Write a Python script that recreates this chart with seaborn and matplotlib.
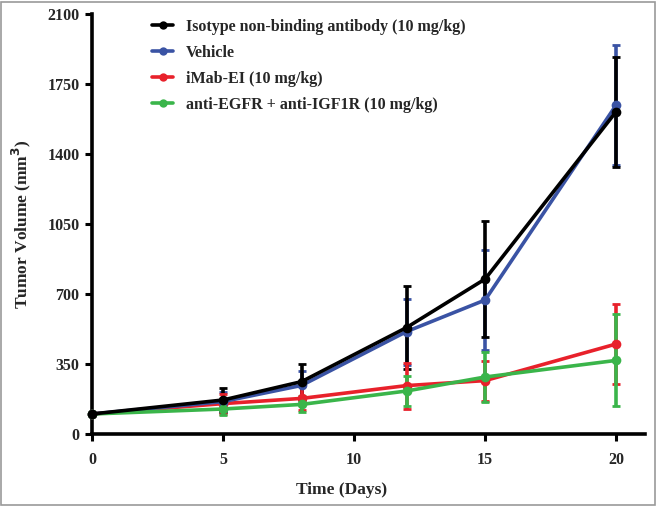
import matplotlib
matplotlib.use("Agg")
import matplotlib.pyplot as plt
import seaborn as sns
import pandas as pd
import numpy as np
from matplotlib.lines import Line2D
from matplotlib.patches import Rectangle

days = [0, 5, 8, 12, 15, 20]
series_names = [
    "Isotype non-binding antibody (10 mg/kg)",
    "Vehicle",
    "iMab-EI (10 mg/kg)",
    "anti-EGFR + anti-IGF1R (10 mg/kg)",
]
isotype_mean = [100, 170, 262, 532, 775, 1612]
isotype_err = [0, 62, 90, 208, 292, 275]
vehicle_mean = [100, 162, 243, 512, 670, 1645]
vehicle_err = [0, 50, 70, 165, 250, 300]
imab_mean = [100, 152, 178, 242, 267, 450]
imab_err = [0, 50, 60, 115, 100, 200]
combo_mean = [100, 125, 148, 215, 285, 368]
combo_err = [0, 30, 40, 75, 125, 230]

colors = ["#000000", "#3a53a4", "#e8212b", "#3ab54a"]
means = [isotype_mean, vehicle_mean, imab_mean, combo_mean]
errs = [isotype_err, vehicle_err, imab_err, combo_err]

frames = []
for name, m, e in zip(series_names, means, errs):
    frames.append(pd.DataFrame({"Day": days, "Volume": m, "Err": e, "Group": name}))
df = pd.concat(frames, ignore_index=True)

sns.set_theme(style="ticks")
plt.rcParams['font.family'] = ['Liberation Serif', 'DejaVu Serif']
plt.rcParams['font.weight'] = 'bold'

fig = plt.figure(figsize=(6.57, 5.07), dpi=100)
ax = fig.add_axes([92/657, 1-434/507, 553/657, 420/507])

# error bars: blue, black, red, green (green on top)
err_order = [1, 0, 2, 3]
for z, i in enumerate(err_order):
    sub = df[df["Group"] == series_names[i]]
    ax.errorbar(sub["Day"], sub["Volume"], yerr=sub["Err"], fmt='none',
                ecolor=colors[i], elinewidth=2.6, capsize=3.0, capthick=2.0,
                zorder=3 + z, clip_on=False)
# lines: red, blue, green, black
line_order = [2, 1, 3, 0]
for z, i in enumerate(line_order):
    sub = df[df["Group"] == series_names[i]]
    sns.lineplot(data=sub, x="Day", y="Volume", color=colors[i], ax=ax,
                 linewidth=2.6, marker='o', markersize=7, markeredgewidth=0,
                 zorder=10 + z, clip_on=False, legend=False)

ax.set_xlim(0, 21.1)
ax.set_ylim(0, 2100)
ax.set_xticks([0, 5, 10, 15, 20])
ax.set_yticks([0, 350, 700, 1050, 1400, 1750, 2100])
sns.despine(ax=ax)
for s in ["left", "bottom"]:
    ax.spines[s].set_linewidth(2.6)
    ax.spines[s].set_color("black")
ax.tick_params(axis='both', length=5, width=2.2, color='black', labelsize=11.5,
               direction='out')
ax.tick_params(axis='x', pad=8)
ax.tick_params(axis='y', pad=4)
for lab in ax.get_xticklabels() + ax.get_yticklabels():
    lab.set_fontweight('bold')
ax.set_xlabel("Time (Days)", fontsize=12.5, fontweight='bold', labelpad=12)
ax.xaxis.set_label_coords(0.452, -0.115)
ax.set_ylabel("Tumor Volume (mm$^\\mathbf{3}$)", fontsize=12.5, fontweight='bold')
ax.yaxis.set_label_coords(-0.107, 0.5)
ax.set_facecolor('white')

handles = [Line2D([0], [0], color=c, linewidth=2.6, marker='o', markersize=6,
                  markeredgewidth=0) for c in colors]
leg = ax.legend(handles, series_names, loc='upper left',
                bbox_to_anchor=(0.108, 0.988), frameon=False, borderpad=0,
                borderaxespad=0, handlelength=1.35, handletextpad=0.8,
                labelspacing=0.62, prop={'family': 'Liberation Serif', 'weight': 'bold', 'size': 11.5})

fig.patches.append(Rectangle((0.002, 0.003), 0.995, 0.994, transform=fig.transFigure,
                             fill=False, edgecolor='#9a9a9a', linewidth=1.2))

fig.savefig("out.png", dpi=100, facecolor='white')
